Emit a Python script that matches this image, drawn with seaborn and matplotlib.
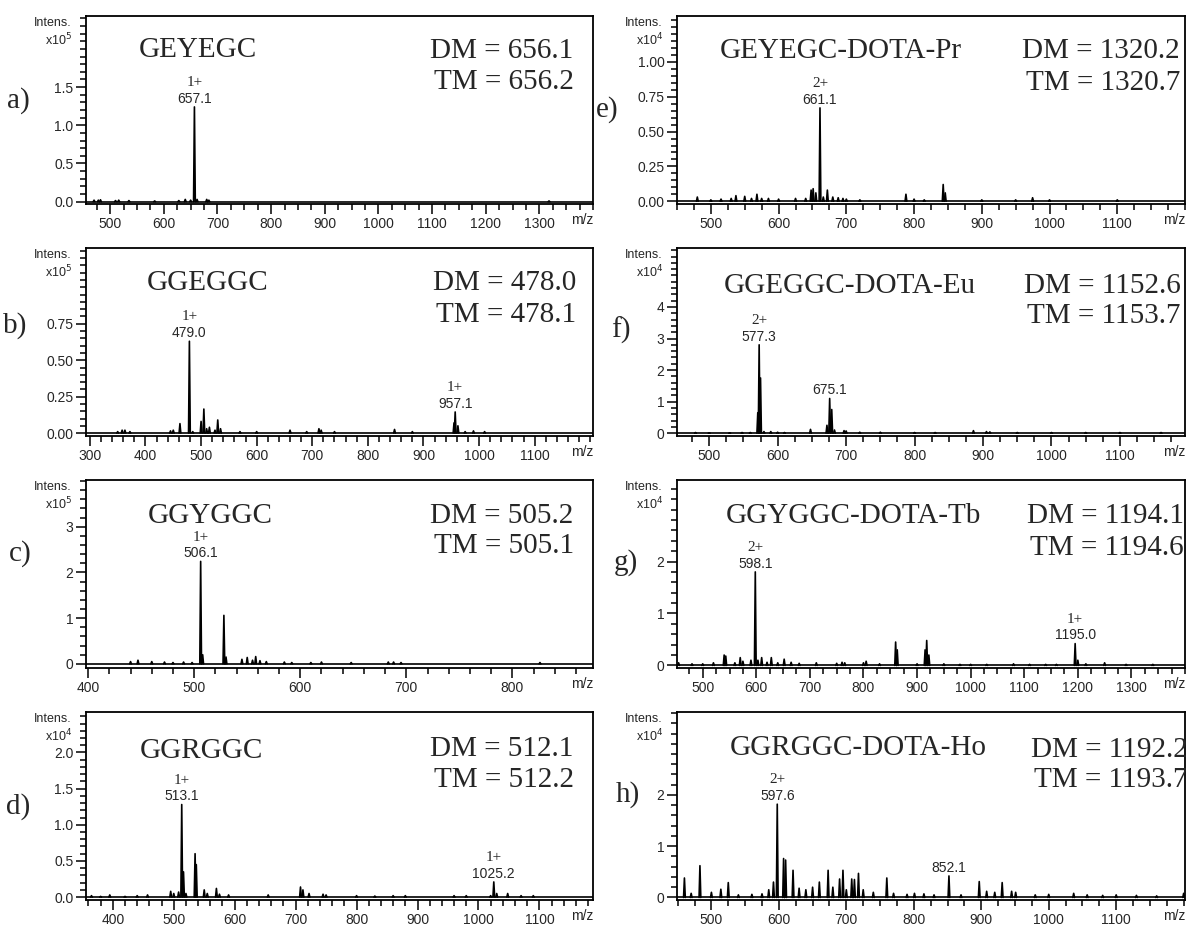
import numpy as np
import pandas as pd
import matplotlib
matplotlib.use("Agg")
import matplotlib.pyplot as plt
import seaborn as sns
from matplotlib.ticker import MultipleLocator, FormatStrFormatter

sns.set_style("ticks")
plt.rcParams['font.family'] = ['Liberation Sans', 'DejaVu Sans']
SERIF = ['Liberation Serif', 'DejaVu Serif']

# ---------------- data (peak m/z and intensity) ----------------
# a) GEYEGC, x10^5
a_mz = [470, 478, 482, 510, 516, 535, 583, 628, 640, 650, 657.1, 662, 680, 684, 1318]
a_int = [0.02, 0.02, 0.025, 0.015, 0.02, 0.015, 0.01, 0.015, 0.03, 0.02, 1.24, 0.03, 0.03, 0.02, 0.01]
# b) GGEGGC, x10^5
b_mz = [350, 358, 363, 372, 445, 450, 462, 479.0, 485, 500, 505, 510, 515, 525, 530, 535,
        570, 600, 660, 690, 712, 716, 740, 848, 880, 955, 957.1, 962, 975, 990, 1010]
b_int = [0.01, 0.02, 0.02, 0.01, 0.015, 0.02, 0.065, 0.63, 0.01, 0.08, 0.165, 0.03, 0.04, 0.02,
         0.09, 0.03, 0.01, 0.01, 0.02, 0.01, 0.03, 0.02, 0.01, 0.025, 0.01, 0.07, 0.145, 0.05,
         0.01, 0.015, 0.01]
# c) GGYGGC, x10^5
c_mz = [440, 447, 460, 472, 480, 490, 498, 506.1, 508, 528, 530, 545, 550, 555, 558, 562,
        568, 585, 592, 610, 620, 648, 683, 688, 695, 826]
c_int = [0.05, 0.08, 0.05, 0.04, 0.03, 0.04, 0.03, 2.24, 0.2, 1.06, 0.15, 0.1, 0.14, 0.08, 0.16,
         0.07, 0.05, 0.04, 0.03, 0.03, 0.04, 0.03, 0.04, 0.04, 0.03, 0.03]
# d) GGRGGC, x10^4
d_mz = [365, 380, 395, 420, 440, 457, 495, 500, 508, 513.1, 516, 520, 535, 537, 550, 555, 570,
        575, 590, 655, 708, 712, 722, 745, 750, 800, 830, 860, 880, 960, 980, 1020, 1025.2,
        1030, 1048, 1070, 1090]
d_int = [0.02, 0.01, 0.03, 0.01, 0.02, 0.03, 0.08, 0.05, 0.07, 1.28, 0.35, 0.05, 0.6, 0.45, 0.1,
         0.05, 0.12, 0.04, 0.03, 0.03, 0.14, 0.1, 0.05, 0.04, 0.03, 0.02, 0.015, 0.02, 0.02,
         0.02, 0.02, 0.02, 0.21, 0.05, 0.05, 0.02, 0.02]
# e) GEYEGC-DOTA-Pr, x10^4
e_mz = [480, 500, 515, 530, 537, 550, 560, 568, 575, 585, 600, 625, 640, 648, 651, 655, 661.1,
        666, 672, 680, 688, 695, 700, 720, 788, 800, 815, 843, 846, 900, 950, 975, 1000, 1100]
e_int = [0.03, 0.01, 0.015, 0.02, 0.04, 0.035, 0.02, 0.05, 0.02, 0.02, 0.015, 0.02, 0.02, 0.08,
         0.09, 0.06, 0.67, 0.03, 0.08, 0.03, 0.025, 0.02, 0.015, 0.01, 0.05, 0.015, 0.01, 0.12,
         0.06, 0.01, 0.01, 0.025, 0.01, 0.01]
# f) GGEGGC-DOTA-Eu, x10^4
f_mz = [480, 500, 530, 548, 560, 571, 573, 575, 580, 590, 600, 610, 648, 672, 676, 679, 683,
        697, 700, 720, 750, 800, 830, 886, 905, 910, 950, 1000, 1050, 1100, 1160]
f_int = [0.02, 0.01, 0.01, 0.02, 0.02, 0.65, 2.8, 1.75, 0.05, 0.05, 0.03, 0.02, 0.12, 0.25, 1.1,
         0.75, 0.1, 0.08, 0.07, 0.03, 0.03, 0.02, 0.02, 0.08, 0.05, 0.04, 0.02, 0.02, 0.02,
         0.02, 0.02]
# g) GGYGGC-DOTA-Tb, x10^4
g_mz = [455, 480, 500, 520, 540, 543, 560, 570, 575, 590, 598.1, 603, 610, 620, 628, 640, 652,
        665, 680, 712, 750, 760, 765, 800, 805, 830, 860, 863, 900, 915, 918, 922, 950, 980,
        1000, 1030, 1080, 1110, 1140, 1160, 1195.0, 1200, 1215, 1250, 1290, 1340]
g_int = [0.05, 0.03, 0.03, 0.05, 0.2, 0.18, 0.05, 0.15, 0.08, 0.1, 1.8, 0.1, 0.15, 0.06, 0.15,
         0.05, 0.12, 0.06, 0.04, 0.05, 0.04, 0.06, 0.05, 0.05, 0.08, 0.03, 0.45, 0.3, 0.03, 0.3,
         0.48, 0.2, 0.03, 0.02, 0.02, 0.02, 0.03, 0.02, 0.02, 0.02, 0.42, 0.1, 0.03, 0.05,
         0.02, 0.02]
# h) GGRGGC-DOTA-Ho, x10^4
h_mz = [460, 470, 483, 500, 514, 525, 540, 560, 575, 585, 592, 597.6, 607, 610, 621, 630, 640,
        650, 660, 673, 680, 690, 695, 700, 708, 712, 718, 725, 740, 760, 770, 790, 801, 815,
        830, 852.1, 870, 897, 908, 920, 931, 945, 951, 980, 1000, 1037, 1057, 1080, 1100,
        1130, 1160, 1200]
h_int = [0.38, 0.08, 0.62, 0.1, 0.16, 0.29, 0.05, 0.06, 0.07, 0.15, 0.3, 1.82, 0.76, 0.73, 0.53,
         0.18, 0.15, 0.2, 0.3, 0.53, 0.2, 0.36, 0.53, 0.15, 0.36, 0.35, 0.47, 0.15, 0.1, 0.38,
         0.08, 0.06, 0.08, 0.07, 0.05, 0.42, 0.05, 0.31, 0.12, 0.1, 0.29, 0.12, 0.1, 0.05,
         0.06, 0.08, 0.05, 0.04, 0.05, 0.04, 0.03, 0.08]

# axis ranges and ticks
a_xlim, b_xlim, c_xlim, d_xlim = (455, 1400), (293, 1205), (398, 876), (356, 1188)
e_xlim, f_xlim, g_xlim, h_xlim = (450, 1200), (453, 1195), (452, 1400), (449, 1202)
a_ylim, b_ylim, c_ylim, d_ylim = (-0.03, 2.43), (-0.02, 1.27), (-0.09, 4.02), (-0.04, 2.56)
e_ylim, f_ylim, g_ylim, h_ylim = (-0.02, 1.33), (-0.09, 5.87), (-0.05, 3.57), (-0.05, 3.62)
a_xticks = list(range(500, 1301, 100))
b_xticks = list(range(300, 1101, 100))
c_xticks = list(range(400, 801, 100))
d_xticks = list(range(400, 1101, 100))
e_xticks = list(range(500, 1101, 100))
f_xticks = list(range(500, 1101, 100))
g_xticks = list(range(500, 1301, 100))
h_xticks = list(range(500, 1101, 100))
a_yticks = [0.0, 0.5, 1.0, 1.5]
b_yticks = [0.0, 0.25, 0.5, 0.75]
c_yticks = [0, 1, 2, 3]
d_yticks = [0.0, 0.5, 1.0, 1.5, 2.0]
e_yticks = [0.0, 0.25, 0.5, 0.75, 1.0]
f_yticks = [0, 1, 2, 3, 4]
g_yticks = [0, 1, 2]
h_yticks = [0, 1, 2]

# peak labels: (m/z, intensity, charge, value text)
a_labels = [(657.1, 1.24, "1+", "657.1")]
b_labels = [(479.0, 0.63, "1+", "479.0"), (957.1, 0.145, "1+", "957.1")]
c_labels = [(506.1, 2.24, "1+", "506.1")]
d_labels = [(513.1, 1.28, "1+", "513.1"), (1025.2, 0.21, "1+", "1025.2")]
e_labels = [(661.1, 0.67, "2+", "661.1")]
f_labels = [(573, 2.8, "2+", "577.3"), (676, 1.1, "", "675.1")]
g_labels = [(598.1, 1.8, "2+", "598.1"), (1195.0, 0.42, "1+", "1195.0")]
h_labels = [(597.6, 1.82, "2+", "597.6"), (852.1, 0.42, "", "852.1")]

names = ["GEYEGC", "GGEGGC", "GGYGGC", "GGRGGC",
         "GEYEGC-DOTA-Pr", "GGEGGC-DOTA-Eu", "GGYGGC-DOTA-Tb", "GGRGGC-DOTA-Ho"]
dm_values = ["656.1", "478.0", "505.2", "512.1", "1320.2", "1152.6", "1194.1", "1192.2"]
tm_values = ["656.2", "478.1", "505.1", "512.2", "1320.7", "1153.7", "1194.6", "1193.7"]
exponents = ["5", "5", "5", "4", "4", "4", "4", "4"]
letters = ["a)", "b)", "c)", "d)", "e)", "f)", "g)", "h)"]

panels = [
    dict(mz=a_mz, y=a_int, xlim=a_xlim, ylim=a_ylim, xt=a_xticks, yt=a_yticks, lab=a_labels,
         xm=25, ym=0.1, fmt="%.1f", col=0, row=0, title=(0.105, 0.78), dm=(0.962, 0.775, 0.61),
         let=(-0.134, 0.553)),
    dict(mz=b_mz, y=b_int, xlim=b_xlim, ylim=b_ylim, xt=b_xticks, yt=b_yticks, lab=b_labels,
         xm=20, ym=0.05, fmt="%.2f", col=0, row=1, title=(0.119, 0.777), dm=(0.966, 0.777, 0.606),
         let=(-0.14, 0.59)),
    dict(mz=c_mz, y=c_int, xlim=c_xlim, ylim=c_ylim, xt=c_xticks, yt=c_yticks, lab=c_labels,
         xm=20, ym=0.2, fmt="%d", col=0, row=2, title=(0.121, 0.77), dm=(0.962, 0.77, 0.61),
         let=(-0.13, 0.61)),
    dict(mz=d_mz, y=d_int, xlim=d_xlim, ylim=d_ylim, xt=d_xticks, yt=d_yticks, lab=d_labels,
         xm=20, ym=0.1, fmt="%.1f", col=0, row=3, title=(0.106, 0.755), dm=(0.962, 0.765, 0.60),
         let=(-0.134, 0.495)),
    dict(mz=e_mz, y=e_int, xlim=e_xlim, ylim=e_ylim, xt=e_xticks, yt=e_yticks, lab=e_labels,
         xm=25, ym=0.05, fmt="%.2f", col=1, row=0, title=(0.084, 0.776), dm=(0.99, 0.776, 0.606),
         let=(-0.138, 0.50)),
    dict(mz=f_mz, y=f_int, xlim=f_xlim, ylim=f_ylim, xt=f_xticks, yt=f_yticks, lab=f_labels,
         xm=25, ym=0.2, fmt="%d", col=1, row=1, title=(0.092, 0.76), dm=(0.992, 0.76, 0.60),
         let=(-0.11, 0.56)),
    dict(mz=g_mz, y=g_int, xlim=g_xlim, ylim=g_ylim, xt=g_xticks, yt=g_yticks, lab=g_labels,
         xm=25, ym=0.2, fmt="%d", col=1, row=2, title=(0.096, 0.77), dm=(0.998, 0.77, 0.60),
         let=(-0.10, 0.56)),
    dict(mz=h_mz, y=h_int, xlim=h_xlim, ylim=h_ylim, xt=h_xticks, yt=h_yticks, lab=h_labels,
         xm=25, ym=0.2, fmt="%d", col=1, row=3, title=(0.104, 0.77), dm=(1.005, 0.76, 0.60),
         let=(-0.096, 0.56)),
]


def spectrum_frame(mz, inten, xlim, hw):
    # every peak is drawn as a narrow triangle on a flat baseline
    rows = [(-1, xlim[0], 0.0), (-1, xlim[1], 0.0)]
    for i, (m, h) in enumerate(zip(mz, inten)):
        rows += [(i, m - hw, 0.0), (i, m, h), (i, m + hw, 0.0)]
    return pd.DataFrame(rows, columns=["peak", "mz", "intensity"])


fig = plt.figure(figsize=(11.86, 9.27), dpi=100)
col_left = [86 / 1186, 677 / 1186]
col_width = [507 / 1186, 508 / 1186]
row_bottom = [1 - 204 / 927, 1 - 436 / 927, 1 - 668 / 927, 1 - 900 / 927]
row_height = 188 / 927

for k, p in enumerate(panels):
    ax = fig.add_axes([col_left[p["col"]], row_bottom[p["row"]], col_width[p["col"]], row_height])
    hw = (p["xlim"][1] - p["xlim"][0]) * 0.0017
    df = spectrum_frame(p["mz"], p["y"], p["xlim"], hw)
    sns.lineplot(data=df, x="mz", y="intensity", units="peak", estimator=None, sort=False,
                 color="black", lw=1.2, ax=ax, legend=False)

    ax.set_xlim(p["xlim"])
    ax.set_ylim(p["ylim"])
    ax.set_xticks(p["xt"])
    ax.set_yticks(p["yt"])
    ax.xaxis.set_minor_locator(MultipleLocator(p["xm"]))
    ax.yaxis.set_minor_locator(MultipleLocator(p["ym"]))
    ax.yaxis.set_major_formatter(FormatStrFormatter(p["fmt"]))
    ax.tick_params(which="major", length=7, width=1.1, labelsize=10, pad=2, color="black")
    ax.tick_params(which="minor", length=4, width=1.1, color="black")
    ax.set_xlabel("")
    ax.set_ylabel("")
    for s in ax.spines.values():
        s.set_linewidth(1.3)
        s.set_color("black")

    ax.text(0.978, -0.05, "m/z", transform=ax.transAxes, ha="center", va="top", fontsize=10)
    ax.text(-0.028, 0.965, "Intens.", transform=ax.transAxes, ha="right", va="center", fontsize=9)
    ax.text(-0.028, 0.87, "x10$^{%s}$" % exponents[k], transform=ax.transAxes, ha="right",
            va="center", fontsize=9)

    tx, ty = p["title"]
    ax.text(tx, ty, names[k], transform=ax.transAxes, ha="left", va="baseline",
            fontsize=21, family=SERIF)
    dx, dy1, dy2 = p["dm"]
    ax.text(dx, dy1, "DM = " + dm_values[k], transform=ax.transAxes, ha="right",
            va="baseline", fontsize=21, family=SERIF, clip_on=False)
    ax.text(dx, dy2, "TM = " + tm_values[k], transform=ax.transAxes, ha="right",
            va="baseline", fontsize=21, family=SERIF, clip_on=False)
    lx, ly = p["let"]
    ax.text(lx, ly, letters[k], transform=ax.transAxes, ha="center", va="center",
            fontsize=21, family=SERIF)

    for m, h, charge, value in p["lab"]:
        ax.annotate(value, (m, h), xytext=(0, 3), textcoords="offset points",
                    ha="center", va="baseline", fontsize=10)
        if charge:
            ax.annotate(charge, (m, h), xytext=(0, 15), textcoords="offset points",
                        ha="center", va="baseline", fontsize=11, family=SERIF)

fig.savefig("out.png", dpi=100)
